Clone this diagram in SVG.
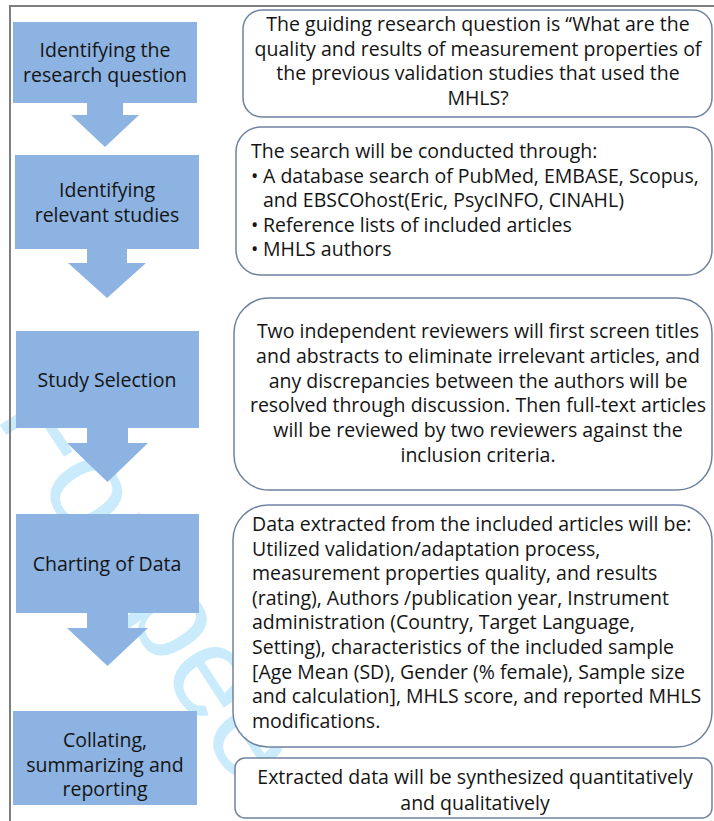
<svg xmlns="http://www.w3.org/2000/svg" width="714" height="821" viewBox="0 0 714 821">
<style>
  .step { fill: #8db3e2; }
  .box { fill: #ffffff; stroke: #6f83a0; stroke-width: 1.5; }
  .arrow { fill: #8db3e2; }
  text { font-family: "Open Sans", "Liberation Sans", sans-serif; font-size: 19.5px; fill: #141414; }
  .c { text-anchor: middle; }
  .wm { font-family: "Liberation Sans", sans-serif; font-size: 130px; fill: #c9ebfb; }
  .frame { stroke: #7f7f7f; stroke-width: 2; fill: none; }
</style>
<rect width="714" height="821" fill="#ffffff"/>
<text class="wm" transform="translate(-6,416) rotate(56.7)">For peer</text>
<path class="frame" d="M10,821 V6 H714"/>

<g id="connectors">
  <polygon class="arrow" points="87,102 123,102 123,115 139,115 105,147 71,115 87,115"/>
  <polygon class="arrow" points="87,248 127,248 127,263 146,263 107,298 68,263 87,263"/>
  <polygon class="arrow" points="87,427 128,427 128,443 148,443 107.5,482 67,443 87,443"/>
  <polygon class="arrow" points="87,612 128,612 128,628 148,628 107.5,666 67,628 87,628"/>
</g>

<g id="step1">
  <rect class="step" x="13" y="22" width="184" height="81"/>
  <text class="c" x="105" y="57">Identifying the</text>
  <text class="c" x="105" y="82">research question</text>
</g>
<g id="step2">
  <rect class="step" x="15" y="155" width="184" height="94"/>
  <text class="c" x="107" y="197">Identifying</text>
  <text class="c" x="107" y="222">relevant studies</text>
</g>
<g id="step3">
  <rect class="step" x="16" y="331" width="183" height="97"/>
  <text class="c" x="107" y="387">Study Selection</text>
</g>
<g id="step4">
  <rect class="step" x="16" y="514" width="183" height="99"/>
  <text class="c" x="107" y="571">Charting of Data</text>
</g>
<g id="step5">
  <rect class="step" x="13" y="711" width="184" height="94"/>
  <text class="c" x="105" y="747">Collating,</text>
  <text class="c" x="105" y="771.5">summarizing and</text>
  <text class="c" x="105" y="796">reporting</text>
</g>

<g id="desc1">
  <rect class="box" x="243" y="10" width="469" height="107" rx="19"/>
  <text class="c" x="478" y="31">The guiding research question is “What are the</text>
  <text class="c" x="478" y="55.5">quality and results of measurement properties of</text>
  <text class="c" x="478" y="80">the previous validation studies that used the</text>
  <text class="c" x="478" y="104.5">MHLS?</text>
</g>
<g id="desc2">
  <rect class="box" x="236" y="127" width="476" height="148" rx="25"/>
  <text x="251" y="158">The search will be conducted through:</text>
  <text x="251" y="182.5">•</text>
  <text x="263" y="182.5">A database search of PubMed, EMBASE, Scopus,</text>
  <text x="263" y="207">and EBSCOhost(Eric, PsycINFO, CINAHL)</text>
  <text x="251" y="231.5">•</text>
  <text x="263" y="231.5">Reference lists of included articles</text>
  <text x="251" y="256">•</text>
  <text x="263" y="256">MHLS authors</text>
</g>
<g id="desc3">
  <rect class="box" x="234" y="298" width="478" height="192" rx="35"/>
  <text class="c" x="478" y="338">Two independent reviewers will first screen titles</text>
  <text class="c" x="478" y="362.8">and abstracts to eliminate irrelevant articles, and</text>
  <text class="c" x="478" y="387.6">any discrepancies between the authors will be</text>
  <text class="c" x="478" y="412.4">resolved through discussion. Then full-text articles</text>
  <text class="c" x="478" y="437.2">will be reviewed by two reviewers against the</text>
  <text class="c" x="478" y="462">inclusion criteria.</text>
</g>
<g id="desc4">
  <rect class="box" x="233" y="505" width="479" height="242" rx="35"/>
  <text x="252" y="531">Data extracted from the included articles will be:</text>
  <text x="252" y="555.6">Utilized validation/adaptation process,</text>
  <text x="252" y="580.2">measurement properties quality, and results</text>
  <text x="252" y="604.8">(rating), Authors /publication year, Instrument</text>
  <text x="252" y="629.4">administration (Country, Target Language,</text>
  <text x="252" y="654">Setting), characteristics of the included sample</text>
  <text x="252" y="678.6">[Age Mean (SD), Gender (% female), Sample size</text>
  <text x="252" y="703.2">and calculation], MHLS score, and reported MHLS</text>
  <text x="252" y="727.8">modifications.</text>
</g>
<g id="desc5">
  <rect class="box" x="235" y="758" width="477" height="60" rx="10"/>
  <text class="c" x="475" y="784">Extracted data will be synthesized quantitatively</text>
  <text class="c" x="475" y="809.5">and qualitatively</text>
</g>
</svg>
